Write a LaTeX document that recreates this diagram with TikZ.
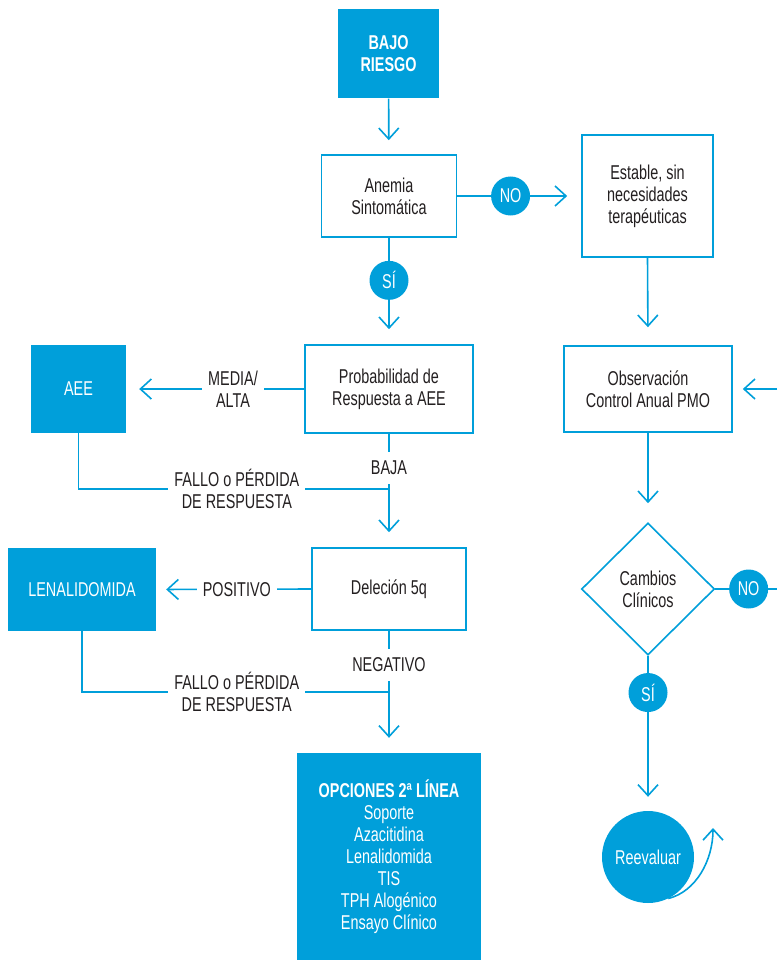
\documentclass[tikz,border=0pt]{standalone}
\usepackage{fontspec}
\setmainfont{Liberation Sans}[FakeStretch=0.72]
\usetikzlibrary{arrows.meta,shapes.geometric}
\definecolor{azul}{RGB}{0,159,218}
\definecolor{tinta}{RGB}{35,31,32}

\begin{document}
\begin{tikzpicture}[x=1pt, y=-1pt,
    font=\fontsize{20}{22}\selectfont,
    flow/.style ={draw=azul, line width=1.6pt, -{Straight Barb[length=11pt,width=20pt]}},
    link/.style ={draw=azul, line width=1.6pt},
    solidbox/.style ={rectangle, fill=azul, text=white, align=center, inner sep=0pt},
    framebox/.style ={rectangle, draw=azul, line width=1.6pt, fill=white, text=tinta, align=center, inner sep=0pt},
    badge/.style ={circle, fill=azul, text=white, minimum size=39pt, inner sep=0pt},
    cut/.style ={fill=white, text=tinta, align=center, inner xsep=6pt, inner ysep=9pt}]
   \useasboundingbox (0,0) rectangle (777,960);
   \node[solidbox, minimum width=101pt, minimum height=89pt] (bajo) at (388.5,54) {\textbf{BAJO}\\\textbf{RIESGO}};
   \node[framebox, minimum width=135pt, minimum height=82pt] (anemia) at (389,196) {Anemia\\Sintomática};
   \node[framebox, minimum width=131pt, minimum height=122pt] (estable) at (647.5,196) {Estable, sin\\necesidades\\terapéuticas};
   \node[framebox, minimum width=168pt, minimum height=88pt] (prob) at (389,389) {Probabilidad de\\Respuesta a AEE};
   \node[solidbox, minimum width=95pt, minimum height=88pt] (aee) at (78.5,389) {AEE};
   \node[framebox, minimum width=154pt, minimum height=82pt] (delecion) at (389,589) {Deleción 5q};
   \node[solidbox, minimum width=148pt, minimum height=83pt] (lenali) at (82,589.5) {LENALIDOMIDA};
   \node[solidbox, minimum width=184pt, minimum height=208pt] (opciones) at (389,857)
      {\textbf{OPCIONES 2ª LÍNEA}\\Soporte\\Azacitidina\\Lenalidomida\\TIS\\TPH Alogénico\\Ensayo Clínico};
   \node[framebox, minimum width=168pt, minimum height=86pt] (observ) at (648,389) {Observación\\Control Anual PMO};
   \node[diamond, draw=azul, line width=1.6pt, fill=white, text=tinta, align=center, inner sep=0pt,
         minimum width=133pt, minimum height=132pt] (cambios) at (648,589) {Cambios\\Clínicos};
   \node[circle, fill=azul, text=white, minimum size=92pt, inner sep=0pt] (reeval) at (648,857) {Reevaluar};
   \coordinate (unionA) at (389,489);
   \coordinate (unionB) at (389,692);
   \coordinate (bordeA) at (777,389);
   \coordinate (bordeB) at (777,589);
   \coordinate (vuelta) at (713,828);
   \draw[flow, shorten >=14pt] (bajo) -- (anemia);
   \draw[flow, shorten >=14pt] (anemia.east) -- node[badge, pos=0.43] (no1) {NO} (estable.west);
   \draw[flow, shorten >=15pt] (anemia.south) -- node[badge, pos=0.4] (si1) {SÍ} (prob.north);
   \draw[flow, shorten >=13pt] (prob.west) -- node[cut, pos=0.4] (media) {MEDIA/\\ALTA} (aee.east);
   \draw[flow, shorten >=15pt] (prob.south) -- node[cut, pos=0.3] (baja) {BAJA} (delecion.north);
   \draw[link] (aee.south) |- node[cut, pos=0.755] (fallo1) {FALLO o PÉRDIDA\\DE RESPUESTA} (unionA);
   \draw[flow, shorten >=10pt] (delecion.west) -- node[cut, pos=0.48] (positivo) {POSITIVO} (lenali.east);
   \draw[flow, shorten >=15pt] (delecion.south) -- node[cut, pos=0.28] (negativo) {NEGATIVO} (opciones.north);
   \draw[link] (lenali.south) |- node[cut, pos=0.752] (fallo2) {FALLO o PÉRDIDA\\DE RESPUESTA} (unionB);
   \draw[flow, shorten >=18pt] (estable.south) -- (observ.north);
   \draw[flow, shorten >=19pt] (observ.south) -- (cambios.north);
   \draw[flow, shorten >=10pt] (bordeA) -- (observ.east);
   \draw[link] (cambios.east) -- node[badge, pos=0.54] (no2) {NO} (bordeB);
   \draw[flow, shorten >=14pt] (cambios.south) -- node[badge, pos=0.237] (si2) {SÍ} (reeval.north);
   \draw[flow] (reeval.-64) .. controls +(28,-7) and +(0,32) .. (vuelta);
\end{tikzpicture}
\end{document}
